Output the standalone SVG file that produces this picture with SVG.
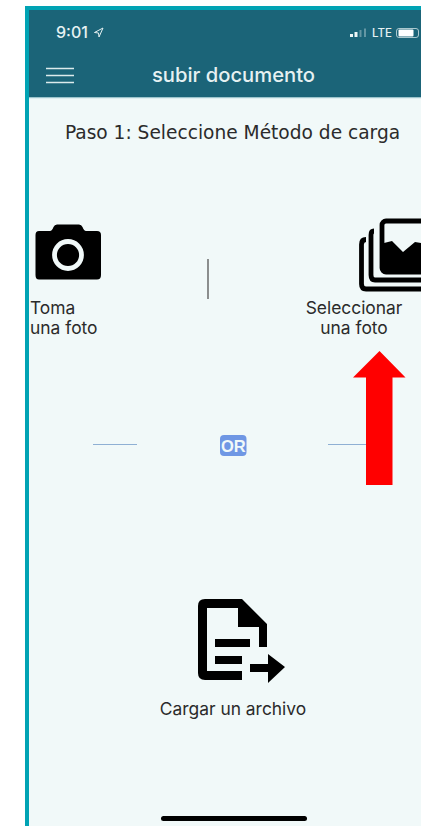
<svg xmlns="http://www.w3.org/2000/svg" width="421" height="826" viewBox="0 0 421 826">
<style>
.t{font-family:"DejaVu Sans","Liberation Sans",sans-serif;font-size:18.600px;fill:#2b2b2b}
.a{font-family:Inter,"Liberation Sans",Arial,sans-serif;fill:#e6f1f2}
.l{font-family:Inter,"Liberation Sans",Arial,sans-serif;font-size:17.400px;fill:#2b2b2b}
.s{fill:none;stroke:#000;stroke-width:4.800;stroke-linejoin:round}
</style>
<rect width="421" height="826" fill="#fff"/>
<rect x="25" y="6" width="396" height="820" fill="#00a3b4"/>
<rect x="29" y="10" width="392" height="816" fill="#f1f9f9"/>
<g id="header">
<rect x="29" y="10" width="392" height="88" fill="#1b6478"/>
<rect x="29" y="97" width="392" height="1.200" fill="#9cc4cc"/>
<text class="a" x="56" y="38" font-size="16" font-weight="500">9:01</text>
<path d="M103 28 L94.500 32.500 L98.500 33 L99 37 Z" fill="none" stroke="#e6f1f2"/>
<g fill="#eef6f6"><rect x="350" y="34" width="3" height="3"/><rect x="354.500" y="32" width="3" height="5"/><rect x="359.500" y="30" width="2" height="7" opacity=".35"/><rect x="364" y="28.500" width="2" height="8.500" opacity=".35"/></g>
<text class="a" x="372" y="37" font-size="11.500" font-weight="500">LTE</text>
<rect x="396.500" y="28.500" width="22" height="9" rx="2.500" fill="none" stroke="#cfe2e5" stroke-width=".8"/>
<rect x="398.500" y="29.500" width="15" height="7" rx="1" fill="#fff"/>
<path d="M46 68.500H74M46 75.500H74M46 82.500H74" stroke="#dcebec" stroke-width="1.300"/>
<text class="a" x="233.500" y="81.500" font-size="20.200" font-weight="500" text-anchor="middle">subir documento</text>
</g>
<text id="title" class="t" x="232.500" y="139" text-anchor="middle">Paso 1: Seleccione Método de carga</text>
<g id="camera">
<path d="M39 231H50Q52 231 53.500 227Q54.500 224.500 57 224.500H79Q81.500 224.500 82.500 227Q84 231 86 231H97Q101 231 101 235V275Q101 279.500 97 279.500H39Q35.500 279.500 35.500 275V235Q35.500 231 39 231Z" fill="#000"/>
<circle cx="68" cy="255" r="13.500" fill="#000" stroke="#f1f9f9" stroke-width="4.800"/>
<text class="l" x="30" y="314">Toma</text>
<text class="l" x="30" y="334">una foto</text>
</g>
<path id="divider" d="M208 259V299" stroke="#555" stroke-width="1.300"/>
<g id="gallery">
<path class="s" d="M366 239.500Q361.500 239.500 361.500 244.500V284Q361.500 289 366 289H421"/>
<path class="s" d="M374 231Q371 231 371 235V275Q371 280 375 280H421"/>
<rect class="s" x="382" y="221" width="50" height="51" rx="4"/>
<path d="M384 272V243L392 241L403 252L415 242L421 243V272Z" fill="#000"/>
<text class="l" x="354" y="314" text-anchor="middle">Seleccionar</text>
<text class="l" x="354" y="334" text-anchor="middle">una foto</text>
</g>
<g id="connectors">
<path d="M93 444.500H137M328 444.500H367" stroke="#8fb0d4" stroke-width="1.200"/>
</g>
<g id="or">
<rect x="220" y="435" width="26.500" height="21" rx="4" fill="#6f97e4"/>
<text x="233.300" y="451.600" font-family="Liberation Sans, Arial, sans-serif" font-size="16.500" font-weight="700" text-anchor="middle" fill="#f1f9f9">OR</text>
</g>
<path id="arrow" d="M379.500 351L405.500 377.500H392.500V485H366V377.500H353Z" fill="#f00"/>
<g id="file">
<path d="M242 680H205Q198 680 198 673V606Q198 599 205 599H242L267 624V647H259V627H238V608H207V671H242Z" fill="#000"/>
<rect x="215" y="639" width="35" height="8" fill="#000"/>
<rect x="215" y="656" width="27" height="8" fill="#000"/>
<path d="M250 664H268V654L285 667L268 683V672H250Z" fill="#000"/>
<text class="l" x="233" y="715" text-anchor="middle">Cargar un archivo</text>
</g>
<rect id="home" x="161" y="816" width="146" height="5" rx="2.500" fill="#000"/>
</svg>
